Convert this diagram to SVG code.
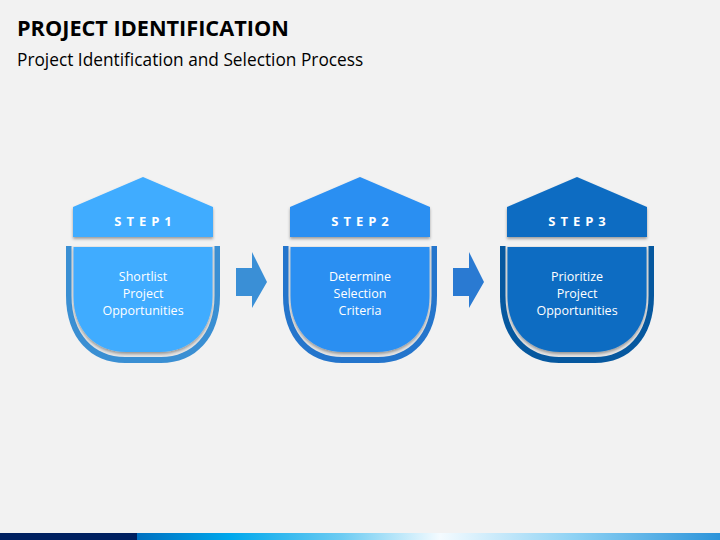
<svg xmlns="http://www.w3.org/2000/svg" width="720" height="540" viewBox="0 0 720 540">
<defs>
<linearGradient id="bar" x1="0" y1="0" x2="1" y2="0">
<stop offset="0" stop-color="#0070C0"/>
<stop offset="0.16" stop-color="#00A8EC"/>
<stop offset="0.35" stop-color="#6CCBF2"/>
<stop offset="0.52" stop-color="#F4FBFF"/>
<stop offset="0.75" stop-color="#8ED2F4"/>
<stop offset="1" stop-color="#2C94DA"/>
</linearGradient>
<path id="outer" d="M-77,246 V296 C-77,338 -52,363 -18,363 H18 C52,363 77,338 77,296 V246 Z"/>
<path id="gap" d="M-71.5,246 V296 C-71.5,334 -49,357 -18,357 H18 C49,357 71.5,334 71.5,296 V246 Z"/>
<path id="inner" d="M-69.5,247 V296 C-69.5,331 -47,352 -17,352 H17 C47,352 69.5,331 69.5,296 V247 Z"/>
<path id="house" d="M-70,207 L0,177 L70,207 V237 H-70 Z"/>
<filter id="sh" x="-20%" y="-20%" width="140%" height="140%">
<feDropShadow dx="0" dy="2" stdDeviation="1.5" flood-color="#000" flood-opacity="0.35"/>
</filter>
</defs>
<style>
.title{font-family:"Open Sans","Liberation Sans",sans-serif;font-weight:bold;font-size:21.7px;fill:#000}
.sub{font-family:"Open Sans","Liberation Sans",sans-serif;font-size:17.3px;fill:#000}
.step{font-family:"Open Sans","Liberation Sans",sans-serif;font-weight:bold;font-size:13px;fill:#fff;letter-spacing:5px;text-anchor:middle}
.body{font-family:"Open Sans","Liberation Sans",sans-serif;font-size:12.5px;fill:#fff;text-anchor:middle}
.gap{fill:#E6E6E6}
</style>
<rect width="720" height="540" fill="#F2F2F2"/>
<text class="title" x="17" y="36">PROJECT IDENTIFICATION</text>
<text class="sub" x="17" y="66">Project Identification and Selection Process</text>

<g id="step1" transform="translate(143,0)">
<use href="#outer" fill="#3A8FD3"/>
<use href="#gap" class="gap"/>
<use href="#inner" fill="#40ACFF" filter="url(#sh)"/>
<use href="#house" fill="#40ACFF" filter="url(#sh)"/>
<text class="step" x="2.5" y="226">STEP1</text>
<text class="body" x="0" y="281">Shortlist</text>
<text class="body" x="0" y="298">Project</text>
<text class="body" x="0" y="315">Opportunities</text>
</g>

<g id="step2" transform="translate(360,0)">
<use href="#outer" fill="#2475CC"/>
<use href="#gap" class="gap"/>
<use href="#inner" fill="#2B8FF2" filter="url(#sh)"/>
<use href="#house" fill="#2B8FF2" filter="url(#sh)"/>
<text class="step" x="2.5" y="226">STEP2</text>
<text class="body" x="0" y="281">Determine</text>
<text class="body" x="0" y="298">Selection</text>
<text class="body" x="0" y="315">Criteria</text>
</g>

<g id="step3" transform="translate(577,0)">
<use href="#outer" fill="#06589F"/>
<use href="#gap" class="gap"/>
<use href="#inner" fill="#0B6CC2" filter="url(#sh)"/>
<use href="#house" fill="#0B6CC2" filter="url(#sh)"/>
<text class="step" x="2.5" y="226">STEP3</text>
<text class="body" x="0" y="281">Prioritize</text>
<text class="body" x="0" y="298">Project</text>
<text class="body" x="0" y="315">Opportunities</text>
</g>

<g id="connectors">
<path d="M236,268 H252 V252 L267,282 L252,308 V296 H236 Z" fill="#3A8FD6"/>
<path d="M453,268 H469 V252 L484,282 L469,308 V296 H453 Z" fill="#2A7AD2"/>
</g>

<rect x="137" y="533" width="583" height="7" fill="url(#bar)"/>
<rect x="0" y="533" width="137" height="7" fill="#002060"/>
</svg>
